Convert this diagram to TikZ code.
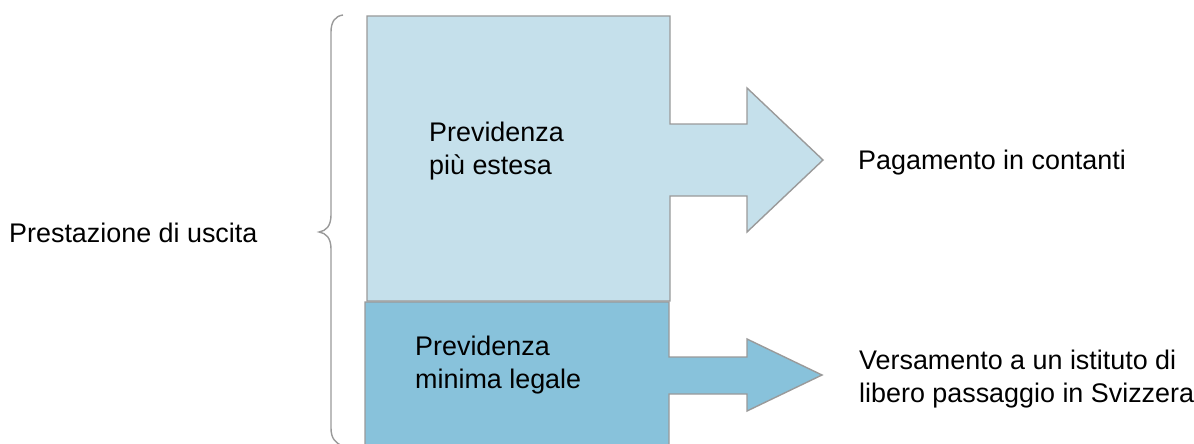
\documentclass[tikz,border=0pt]{standalone}
\usepackage{fontspec}
\setmainfont{Liberation Sans}
\definecolor{lightfill}{HTML}{C5E0EB}
\definecolor{darkfill}{HTML}{88C2DB}
\definecolor{edgegray}{HTML}{9A9A9A}
\begin{document}
\begin{tikzpicture}[x=1pt,y=-1pt,
  shapeedge/.style={draw=edgegray,line width=1.4pt,line join=miter},
  lbl/.style={inner sep=0pt,font=\fontsize{26.9}{32.5}\selectfont,text=black,align=left}]
\useasboundingbox (0,0) rectangle (1194,444);
% upper block with arrow
\path[shapeedge,fill=lightfill] (367,16) -- (670,16) -- (670,124) -- (747,124) -- (747,88) -- (823,160)
  -- (747,232) -- (747,196) -- (670,196) -- (670,301) -- (367,301) -- cycle;
% lower block with arrow
\path[shapeedge,fill=darkfill] (365,302) -- (669,302) -- (669,357) -- (747,357) -- (747,339) -- (822,375)
  -- (747,411) -- (747,394) -- (669,394) -- (669,450) -- (365,450) -- cycle;
% brace
\draw[edgegray,line width=1.4pt] (343,15) .. controls (335,16) and (331,22) .. (331,32) -- (331,215)
  .. controls (331,226) and (326,231) .. (319,232) .. controls (326,233) and (331,238) .. (331,249)
  -- (331,428) .. controls (331,438) and (335,443) .. (343,446);
% texts
\node[lbl,anchor=base west] (uscita) at (9,242) {Prestazione di uscita};
\node[lbl,anchor=west] (estesa) at (429,151) {Previdenza\\più estesa};
\node[lbl,anchor=west] (minima) at (415,365) {Previdenza\\minima legale};
\node[lbl,anchor=base west] (contanti) at (858,169) {Pagamento in contanti};
\node[lbl,anchor=west] (versamento) at (859,379) {Versamento a un istituto di\\libero passaggio in Svizzera};
\end{tikzpicture}
\end{document}
